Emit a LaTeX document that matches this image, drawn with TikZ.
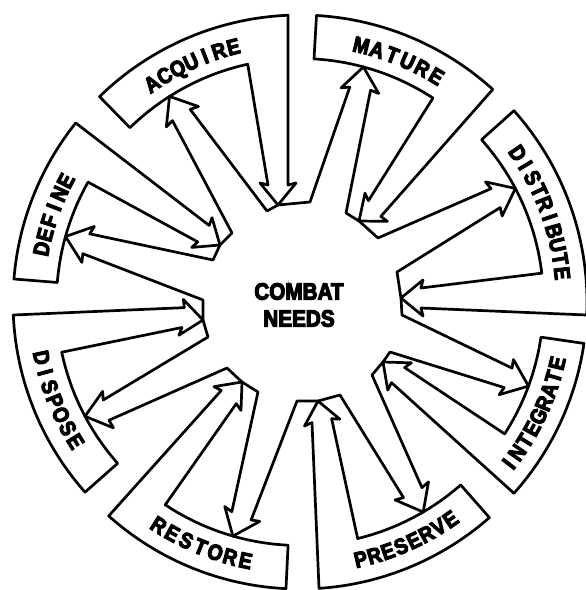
\documentclass[tikz,border=0pt]{standalone}
\usepackage{fontspec}
\setmainfont{Liberation Sans}
\newfontfamily\heavy[FakeBold=5,FakeStretch=0.88]{Liberation Sans}
\usetikzlibrary{calc}
\begin{document}
\begin{tikzpicture}[x=1pt,y=1pt,
  outl/.style={draw=black,line width=2.7pt,line join=round},
  lab/.style={font=\heavy\bfseries\fontsize{22}{22}\selectfont,inner sep=0pt,anchor=base},
  hubtext/.style={font=\heavy\bfseries\fontsize{23.5}{27}\selectfont,align=center,inner sep=0pt}]
\useasboundingbox (-300,-288) rectangle (286,302);
\fill[white] (-300,-288) rectangle (286,302);

% tongue arrows (band -> hub): name/tip x/tip y/direction
\foreach \n/\tx/\ty/\al in {def/-80/57/-34.4, acq/-22/97/-90, mat/59/81/218.5, dis/101/4/180, int/83/-60/139, pre/18/-99/101, res/-58/-80/48.7, dsp/-97/-18/-7}{
  \coordinate (\n-T) at (\tx,\ty);
  \coordinate (\n-bL) at ($(\n-T)+({\al+180}:22)+({\al+90}:18)$);
  \coordinate (\n-nL) at ($(\n-T)+({\al+180}:20)+({\al+90}:10)$);
  \coordinate (\n-bR) at ($(\n-T)+({\al+180}:22)+({\al-90}:18)$);
  \coordinate (\n-nR) at ($(\n-T)+({\al+180}:20)+({\al-90}:10)$);
}
% outward arrows (hub -> band): name/tip angle/direction
\foreach \n/\ph/\be in {def/164.4/160.8, acq/122.4/122.4, mat/74.9/81.5, dis/27.8/26, int/-20.2/-22, pre/-59.6/-61.6, res/-106/-113, dsp/-152/-163.7}{
  \coordinate (\n-P) at (\ph:243.5);
  \coordinate (\n-oBL) at ($(\n-P)+({\be+180}:24)+({\be+90}:19)$);
  \coordinate (\n-oNL) at ($(\n-P)+({\be+180}:22)+({\be+90}:10.5)$);
  \coordinate (\n-oBR) at ($(\n-P)+({\be+180}:24)+({\be-90}:19)$);
  \coordinate (\n-oNR) at ($(\n-P)+({\be+180}:22)+({\be-90}:10.5)$);
}
% cup corners round each tongue tip
\foreach \n/\ax/\ay/\bx/\by in {def/-87/42/-68/69, acq/-33/91/10/100, mat/46/89/78/64, dis/97/30/102/-13, int/90/-50/72/-73, pre/40/-93/-3/-99, res/-42/-90/-73/-66, dsp/-92/-35/-97/2}{
  \coordinate (\n-A) at (\ax,\ay);
  \coordinate (\n-B) at (\bx,\by);
}

% bands with their tongues
\foreach \n/\a/\b/\c in {def/175.4/141.4/150.5, acq/134.3/92.4/102.4, mat/86.7/47.8/56.9, dis/41.8/-2.6/6.8, int/-8.3/-41.8/-32.8, pre/-48.7/-86.2/-76.3, res/-92.8/-131.8/-123.6, dsp/-138.5/-177.4/-168.1}{
  \draw[outl] (\a:287) arc[start angle=\a,end angle=\b,radius=287]
    -- (\n-nL) -- (\n-bL) -- (\n-T) -- (\n-bR) -- (\n-nR)
    -- (\c:243.5) arc[start angle=\c,end angle=\a,radius=243.5] -- cycle;
}

% hub with outward arrows
\draw[outl] (dsp-B)
  \foreach \n in {def,acq,mat,dis,int,pre,res}{
    -- (\n-oNL) -- (\n-oBL) -- (\n-P) -- (\n-oBR) -- (\n-oNR) -- (\n-A) -- (\n-T) -- (\n-B)}
  -- (dsp-oNL) -- (dsp-oBL) -- (dsp-P) -- (dsp-oBR) -- (dsp-oNR) -- (dsp-A) -- (dsp-T) -- cycle;

% labels
\foreach \nm/\c/\s/\sg/\nn/\word in {acq/114.4/3.25/1/7/{A,C,Q,U,I,R,E}, mat/67.7/3.54/1/6/{M,A,T,U,R,E}, dis/20.3/3.12/1/10/{D,I,S,T,R,I,B,U,T,E}, def/160.5/3.14/1/6/{D,E,F,I,N,E}, int/-25.6/3.05/-1/9/{I,N,T,E,G,R,A,T,E}, pre/-66/3.06/-1/8/{P,R,E,S,E,R,V,E}, res/-112.1/3.4/-1/7/{R,E,S,T,O,R,E}, dsp/-158/3.28/-1/7/{D,I,S,P,O,S,E}}{
  \foreach \ch [count=\k] in \word {
    \pgfmathsetmacro\th{\c+\sg*((\nn+1)/2-\k)*\s}
    \pgfmathsetmacro\rot{\th-90*\sg}
    \pgfmathsetmacro\rb{264-7.9*\sg}
    \node[lab,rotate=\rot] (\nm-l\k) at (\th:\rb) {\ch};
  }
}

\node[hubtext] (needs) at (-1,-3) {COMBAT\\NEEDS};
\end{tikzpicture}
\end{document}
